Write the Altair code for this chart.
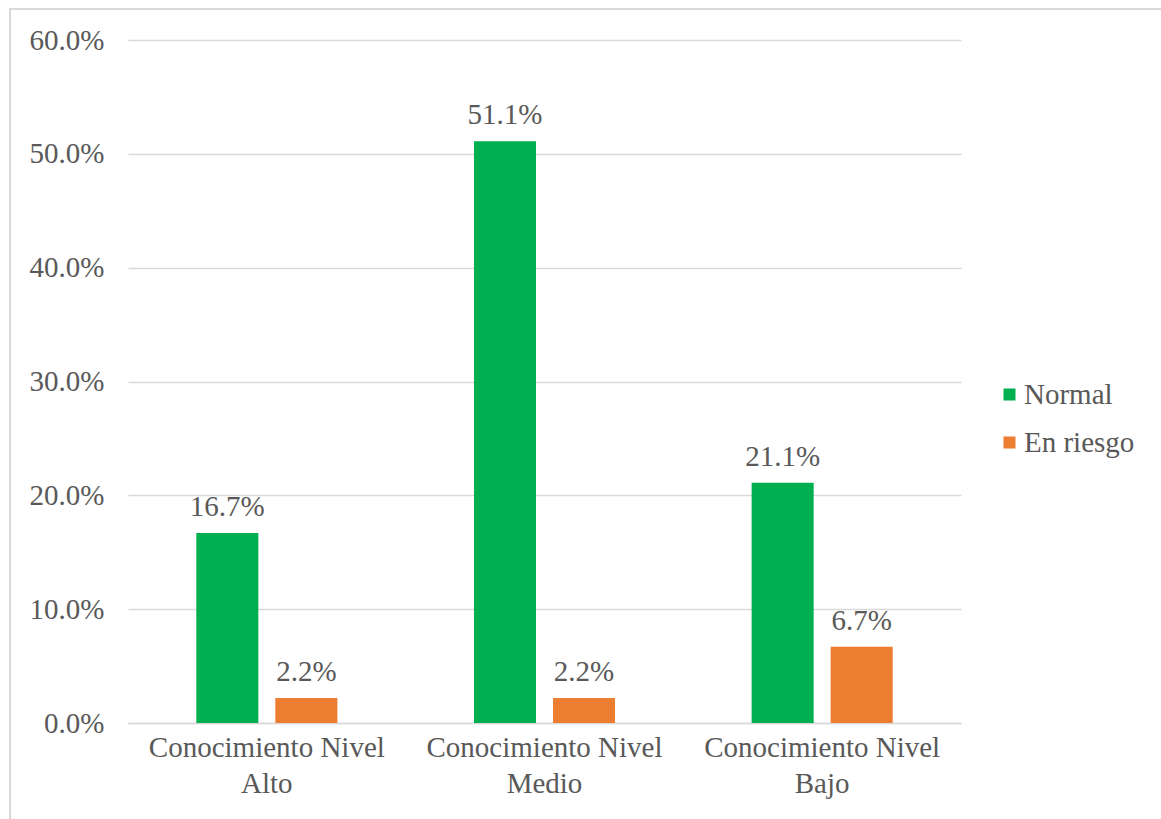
import altair as alt
import pandas as pd

categories = ["Conocimiento Nivel Alto", "Conocimiento Nivel Medio", "Conocimiento Nivel Bajo"]
series = ["Normal", "En riesgo"]
normal_vals = [0.167, 0.511, 0.211]
riesgo_vals = [0.022, 0.022, 0.067]
y_ticks = [0.0, 0.1, 0.2, 0.3, 0.4, 0.5, 0.6]
colors = ["#00B050", "#ED7D31"]

rows = []
for c, n, r in zip(categories, normal_vals, riesgo_vals):
    rows.append({"cat": c, "serie": series[0], "val": n})
    rows.append({"cat": c, "serie": series[1], "val": r})
df = pd.DataFrame(rows)

FONT = "Liberation Serif"
TXT = "#595959"
W, H = 833, 683

x_enc = alt.X("cat:N", sort=categories, title=None,
              scale=alt.Scale(paddingInner=0.492, paddingOuter=0.246),
              axis=alt.Axis(labelAngle=0, labelFont=FONT, labelFontSize=29, labelColor=TXT,
                            labelLineHeight=36, labelPadding=10, ticks=False, labelLimit=0,
                            domainColor="#D9D9D9", domainWidth=1.5,
                            labelExpr="[slice(datum.label, 0, lastindexof(datum.label, ' ')), slice(datum.label, lastindexof(datum.label, ' ') + 1)]"))
xo_enc = alt.XOffset("serie:N", sort=series, scale=alt.Scale(paddingInner=0.215, paddingOuter=0))
y_enc = alt.Y("val:Q", title=None,
              scale=alt.Scale(domain=[0, 0.6], nice=False),
              axis=alt.Axis(values=y_ticks, format=".1%", labelFont=FONT, labelFontSize=29,
                            labelColor=TXT, labelPadding=24, ticks=False, domain=False,
                            gridColor="#D9D9D9", gridWidth=1.5))

bars = alt.Chart(df).mark_bar().encode(
    x=x_enc, xOffset=xo_enc, y=y_enc,
    color=alt.Color("serie:N", sort=series, scale=alt.Scale(domain=series, range=colors),
                    legend=alt.Legend(title=None, orient="none", legendX=867, legendY=340,
                                      symbolType="square", symbolSize=144, symbolStrokeWidth=0,
                                      labelFont=FONT, labelFontSize=29, labelColor=TXT,
                                      rowPadding=18, labelOffset=0))
)

labels = alt.Chart(df).mark_text(font=FONT, fontSize=29, color=TXT, baseline="middle", dy=-26).encode(
    x=alt.X("cat:N", sort=categories), xOffset=alt.XOffset("serie:N", sort=series),
    y=alt.Y("val:Q"), text=alt.Text("val:Q", format=".1%")
)

border = alt.Chart(pd.DataFrame({"a": [0]})).mark_rect(fill=None, stroke="#D9D9D9", strokeWidth=2).encode(
    x=alt.value(-118), x2=alt.value(1200), y=alt.value(-31), y2=alt.value(900)
)

chart = alt.layer(border, bars, labels).properties(
    width=W, height=H,
    autosize=alt.AutoSizeParams(type="none"),
    padding={"left": 128, "top": 40, "right": 200, "bottom": 96},
    background="white",
).configure(font=FONT).configure_view(stroke=None)

chart.save("out.html", embed_options={"renderer": "svg", "actions": False})
